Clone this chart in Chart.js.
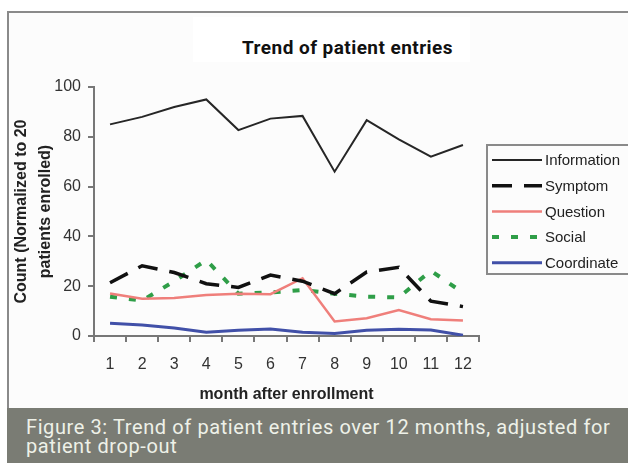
<!DOCTYPE html>
<html>
<head>
<meta charset="utf-8">
<script src="https://cdn.jsdelivr.net/npm/chart.js@4"></script>
<style>
  html, body { margin: 0; padding: 0; background: #fff; width: 628px; height: 463px; overflow: hidden; }
  #frame { position: absolute; left: 7px; top: 11px; width: 640px; height: 395px;
    border-left: 2px solid #8a8a8a; border-top: 2px solid #8a8a8a; background: #fcfcfc; }
  #titlebox { position: absolute; left: 193px; top: 17px; width: 277px; height: 45px; background: #fff; }
  #title { position: absolute; left: 242px; top: 37px; font: bold 19px Roboto, "DejaVu Sans", sans-serif;
    color: #111; white-space: nowrap; line-height: 22px; letter-spacing: 0.45px; }
  #wrap { position: absolute; left: 0; top: 0; width: 628px; height: 408px; }
  #caption { position: absolute; left: 7px; top: 408px; width: 621px; height: 55px; background: #7a7c74;
    color: #eef1e8; font: 20px Roboto, "DejaVu Sans", sans-serif; letter-spacing: 0.6px;
    line-height: 19px; padding: 10px 0 0 19px; box-sizing: border-box; white-space: nowrap; }
</style>
</head>
<body>
<div id="frame"></div>
<div id="titlebox"></div>
<div id="title">Trend of patient entries</div>
<div id="wrap"><canvas id="chart" width="628" height="408"></canvas></div>
<div id="caption">Figure 3: Trend of patient entries over 12 months, adjusted for<br>patient drop-out</div>
<script>
const months = ["1", "2", "3", "4", "5", "6", "7", "8", "9", "10", "11", "12"];
const information = [85, 88, 92, 95, 82.7, 87.3, 88.4, 66, 86.7, 79, 72, 76.7];
const symptom = [21.4, 28.2, 25.5, 21, 19.5, 24.5, 22, 17, 25.7, 27.6, 14, 11.8];
const question = [17.1, 15, 15.3, 16.5, 17, 16.8, 23.2, 5.8, 7.1, 10.4, 6.7, 6.2];
const social = [15.8, 14.2, 22, 30.5, 17, 17.5, 18.5, 17, 15.8, 15.5, 26.2, 17.4];
const coordinate = [5.1, 4.4, 3.2, 1.5, 2.3, 2.8, 1.5, 1.0, 2.3, 2.7, 2.4, 0.3];

// legend box drawn beside the plot, as in the original figure
const boxLegend = {
  id: "boxLegend",
  afterDraw(chart) {
    const ctx = chart.ctx;
    ctx.save();
    ctx.strokeStyle = "#8a8a8a";
    ctx.lineWidth = 2;
    ctx.strokeRect(487, 145, 160, 129);
    chart.data.datasets.forEach((ds, i) => {
      const y = 160 + i * 25.7;
      ctx.strokeStyle = ds.borderColor;
      ctx.lineWidth = ds.borderWidth;
      ctx.setLineDash(ds.borderDash || []);
      ctx.beginPath();
      ctx.moveTo(492, y);
      ctx.lineTo(542, y);
      ctx.stroke();
      ctx.setLineDash([]);
      ctx.fillStyle = "#222";
      ctx.font = "15px 'Liberation Sans', Arial, sans-serif";
      ctx.textBaseline = "middle";
      ctx.fillText(ds.label, 545, y + 1);
    });
    ctx.restore();
  }
};

new Chart(document.getElementById("chart"), {
  type: "line",
  data: {
    labels: months,
    datasets: [
      { label: "Information", data: information, borderColor: "#262626", borderWidth: 2 },
      { label: "Symptom", data: symptom, borderColor: "#111", borderWidth: 3.5, borderDash: [20, 12] },
      { label: "Question", data: question, borderColor: "#ef7f7b", borderWidth: 2.5 },
      { label: "Social", data: social, borderColor: "#2f9e48", borderWidth: 4, borderDash: [7, 12] },
      { label: "Coordinate", data: coordinate, borderColor: "#4150a8", borderWidth: 3 }
    ]
  },
  options: {
    responsive: false,
    animation: false,
    elements: { point: { radius: 0 }, line: { tension: 0, borderCapStyle: "butt" } },
    layout: { padding: { left: 0, top: 87, right: 149, bottom: 0 } },
    plugins: { legend: { display: false }, tooltip: { enabled: false } },
    scales: {
      x: {
        offset: true,
        afterFit: s => { s.height = 72; },
        grid: { offset: true, drawOnChartArea: false, tickLength: 6, color: "#777", lineWidth: 2 },
        border: { color: "#777", width: 2 },
        ticks: { color: "#333", padding: 13, font: { family: "'Liberation Sans', Arial", size: 16 } },
        title: { display: true, text: "month after enrollment", color: "#222", padding: { top: 4 },
          font: { family: "'Liberation Sans', Arial", size: 16, weight: "bold" } }
      },
      y: {
        min: 0, max: 100,
        afterFit: s => { s.width = 94; },
        grid: { drawOnChartArea: false, tickLength: 6, color: "#777", lineWidth: 2 },
        border: { color: "#777", width: 2 },
        ticks: { stepSize: 20, color: "#333", padding: 7, font: { family: "'Liberation Sans', Arial", size: 16 } },
        title: { display: true, text: ["Count (Normalized to 20", "patients enrolled)"], color: "#222",
          padding: { top: 10, bottom: 0 },
          font: { family: "'Liberation Sans', Arial", size: 16, weight: "bold", lineHeight: 1.5 } }
      }
    }
  },
  plugins: [boxLegend]
});
</script>
</body>
</html>
